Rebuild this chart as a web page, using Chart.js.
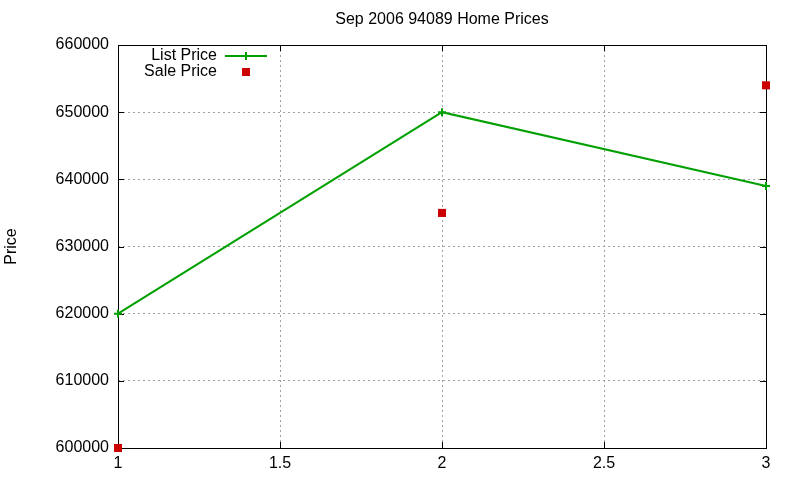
<!DOCTYPE html>
<html>
<head>
<meta charset="utf-8">
<script src="https://cdn.jsdelivr.net/npm/chart.js@4/dist/chart.umd.min.js"></script>
<style>
  html, body { margin: 0; padding: 0; background: #fff; }
  #wrap { width: 800px; height: 480px; }
</style>
</head>
<body>
<div id="wrap"><canvas id="chart" width="800" height="480"></canvas></div>
<script>
const xValues = [1, 2, 3];
const listPrices = [620000, 650000, 639000];
const salePrices = [600000, 635000, 654000];
const seriesNames = ["List Price", "Sale Price"];
const chartTitle = "Sep 2006 94089 Home Prices";
const yLabel = "Price";

const FONT = "'Liberation Sans', Arial, sans-serif";
const GREEN = "#00a000";
const RED = "#cc0000";

// frame + inward ticks like gnuplot, title centred over the plot
const framePlugin = {
  id: "frame",
  beforeDatasetsDraw(chart) {
    const { ctx, chartArea: a, scales } = chart;
    ctx.save();
    ctx.font = "16px " + FONT;
    ctx.fillStyle = "#000";
    ctx.textAlign = "center";
    ctx.textBaseline = "middle";
    ctx.fillText(chartTitle, (a.left + a.right) / 2, 20);

    ctx.strokeStyle = "#000";
    ctx.lineWidth = 1;
    ctx.beginPath();
    scales.y.ticks.forEach(t => {
      const y = Math.round(scales.y.getPixelForValue(t.value)) + 0.5;
      ctx.moveTo(a.left, y); ctx.lineTo(a.left + 6, y);
      ctx.moveTo(a.right, y); ctx.lineTo(a.right - 6, y);
    });
    scales.x.ticks.forEach(t => {
      const x = Math.round(scales.x.getPixelForValue(t.value)) + 0.5;
      ctx.moveTo(x, a.bottom); ctx.lineTo(x, a.bottom - 6);
      ctx.moveTo(x, a.top); ctx.lineTo(x, a.top + 6);
    });
    ctx.stroke();
    ctx.strokeRect(Math.round(a.left) + 0.5, Math.round(a.top) + 0.5,
      Math.round(a.right - a.left), Math.round(a.bottom - a.top));
    ctx.restore();
  }
};

// gnuplot-style key: text right aligned, sample on the right
const keyPlugin = {
  id: "key",
  afterDatasetsDraw(chart) {
    const { ctx } = chart;
    const textRight = 217, sampleX = 246;
    const rows = [56, 72];
    ctx.save();
    ctx.font = "16px " + FONT;
    ctx.fillStyle = "#000";
    ctx.textAlign = "right";
    ctx.textBaseline = "middle";
    chart.data.datasets.forEach((ds, i) => {
      ctx.fillText(ds.label, textRight, rows[i]);
    });
    // list price sample
    ctx.strokeStyle = GREEN;
    ctx.lineWidth = 2;
    ctx.beginPath();
    ctx.moveTo(225, rows[0]); ctx.lineTo(267, rows[0]);
    ctx.moveTo(sampleX, rows[0] - 4); ctx.lineTo(sampleX, rows[0] + 4);
    ctx.stroke();
    // sale price sample
    ctx.fillStyle = RED;
    ctx.fillRect(sampleX - 4, rows[1] - 4, 8, 8);
    ctx.restore();
  }
};

new Chart(document.getElementById("chart"), {
  type: "line",
  data: {
    datasets: [
      {
        label: seriesNames[0],
        data: xValues.map((x, i) => ({ x, y: listPrices[i] })),
        borderColor: GREEN,
        backgroundColor: GREEN,
        borderWidth: 2,
        pointStyle: "cross",
        pointRadius: 4,
        pointBorderWidth: 2,
        pointBorderColor: GREEN,
        tension: 0,
        clip: false
      },
      {
        label: seriesNames[1],
        data: xValues.map((x, i) => ({ x, y: salePrices[i] })),
        showLine: false,
        pointStyle: "rect",
        pointRadius: 5.7,
        pointBorderWidth: 0,
        pointBackgroundColor: RED,
        backgroundColor: RED,
        borderColor: RED,
        clip: false
      }
    ]
  },
  options: {
    responsive: false,
    animation: false,
    events: [],
    layout: { padding: { left: 0, right: 34, top: 45, bottom: 0 } },
    plugins: {
      legend: { display: false },
      tooltip: { enabled: false },
      title: { display: false }
    },
    scales: {
      x: {
        type: "linear",
        min: 1,
        max: 3,
        ticks: {
          stepSize: 0.5,
          color: "#000",
          padding: 6,
          font: { family: FONT, size: 16 },
          callback: v => String(v)
        },
        grid: {
          color: "#a0a0a0",
          drawTicks: false,
          lineWidth: 1
        },
        border: { display: false, dash: [2, 3] },
        afterFit: s => { s.height = 32; }
      },
      y: {
        type: "linear",
        min: 600000,
        max: 660000,
        ticks: {
          stepSize: 10000,
          color: "#000",
          padding: 9,
          font: { family: FONT, size: 16 },
          callback: v => String(v)
        },
        grid: {
          color: "#a0a0a0",
          drawTicks: false,
          lineWidth: 1
        },
        border: { display: false, dash: [2, 3] },
        title: {
          display: true,
          text: yLabel,
          color: "#000",
          font: { family: FONT, size: 16 },
          padding: { top: 2, bottom: 0 }
        },
        afterFit: s => { s.width = 118; }
      }
    }
  },
  plugins: [framePlugin, keyPlugin]
});
</script>
</body>
</html>
